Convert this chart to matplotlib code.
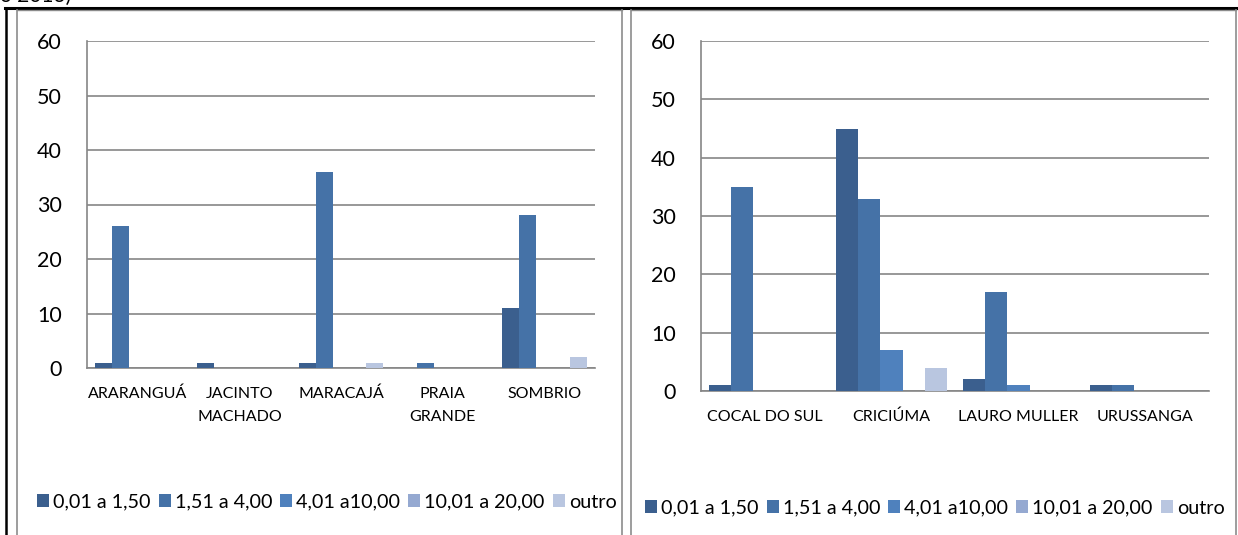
import numpy as np
import matplotlib
matplotlib.use("Agg")
import matplotlib.pyplot as plt
from matplotlib.lines import Line2D
from matplotlib.patches import Patch

plt.rcParams['font.family'] = ['Lato', 'DejaVu Sans']

# Area classes (ha) used as series
series_labels = ["0,01 a 1,50", "1,51 a 4,00", "4,01 a10,00", "10,01 a 20,00", "outro"]
series_colors = ["#3B5F8E", "#4572A7", "#4F81BD", "#95A9D1", "#B9C6E0"]

# Left chart: municipalities and counts per class
left_cats = ["ARARANGUÁ", "JACINTO\nMACHADO", "MARACAJÁ", "PRAIA\nGRANDE", "SOMBRIO"]
left_s1 = [1, 1, 1, 0, 11]
left_s2 = [26, 0, 36, 1, 28]
left_s3 = [0, 0, 0, 0, 0]
left_s4 = [0, 0, 0, 0, 0]
left_s5 = [0, 0, 1, 0, 2]

# Right chart
right_cats = ["COCAL DO SUL", "CRICIÚMA", "LAURO MULLER", "URUSSANGA"]
right_s1 = [1, 45, 2, 1]
right_s2 = [35, 33, 17, 1]
right_s3 = [0, 7, 1, 0]
right_s4 = [0, 0, 0, 0]
right_s5 = [0, 4, 0, 0]

yticks = [0, 10, 20, 30, 40, 50, 60]

W, H = 1238, 535
fig = plt.figure(figsize=(W / 100, H / 100), dpi=100)


def fx(px):
    return px / W


def fy(py):
    return 1 - py / H


grid_color = "#868686"
label_pad_pt = 21.6     # axis line to first baseline
label_step_pt = 16.6    # baseline-to-baseline for wrapped names


def draw_chart(rect, cats, values, bar_w, legend_y, legend_x0):
    ax = fig.add_axes(rect)
    n = len(cats)
    x = np.arange(n)
    for i, vals in enumerate(values):
        ax.bar(x + (i - 2) * bar_w, vals, width=bar_w, color=series_colors[i],
               linewidth=0, zorder=3)
    ax.set_xlim(-0.5, n - 0.5)
    ax.set_ylim(0, 60)
    ax.set_yticks(yticks)
    ax.set_yticklabels([str(t) for t in yticks], fontsize=15.5)
    ax.set_xticks(x)
    ax.set_xticklabels([])
    ax.tick_params(axis='both', length=0)
    ax.tick_params(axis='y', pad=18)
    # category names, each line on its own baseline
    for xi, cat in zip(x, cats):
        for j, line in enumerate(cat.split("\n")):
            ax.annotate(line, xy=(xi, 0), xycoords=('data', 'axes fraction'),
                        xytext=(0, -label_pad_pt - j * label_step_pt),
                        textcoords='offset points', ha='center', va='baseline',
                        fontsize=11.5, annotation_clip=False)
    ax.grid(axis='y', color=grid_color, linewidth=1.2, zorder=0)
    for s in ['top', 'right']:
        ax.spines[s].set_visible(False)
    for s in ['left', 'bottom']:
        ax.spines[s].set_color(grid_color)
        ax.spines[s].set_linewidth(1.2)
    handles = [Patch(facecolor=c, edgecolor='none') for c in series_colors]
    fig.legend(handles, series_labels, loc='center left',
               bbox_to_anchor=(fx(legend_x0), fy(legend_y)), ncol=5,
               frameon=False, fontsize=14.2, handlelength=0.62, handleheight=0.62,
               handletextpad=0.2, columnspacing=0.4, borderaxespad=0, borderpad=0)
    return ax


draw_chart([fx(87), fy(368), fx(508), (368 - 41) / H], left_cats,
           [left_s1, left_s2, left_s3, left_s4, left_s5], 0.167, 502, 37)
draw_chart([fx(701), fy(391), fx(508), (391 - 41) / H], right_cats,
           [right_s1, right_s2, right_s3, right_s4, right_s5], 0.175, 508, 645)

# Caption fragment above the table
fig.text(fx(0), fy(-4), "o 2013)", fontsize=15, ha='left', va='center')

# Table borders and chart frames
def fline(xs, ys, color, lw):
    fig.add_artist(Line2D([fx(v) for v in xs], [fy(v) for v in ys],
                          color=color, linewidth=lw, transform=fig.transFigure))

fline([5, 1238], [8, 8], "black", 2.2)
fline([6, 6], [8, 535], "black", 1.8)
for xv in (17, 622, 631, 1236):
    fline([xv, xv], [10, 535], "#8C8C8C", 1.2)
fline([17, 622], [10, 10], "#8C8C8C", 1.0)
fline([631, 1236], [10, 10], "#8C8C8C", 1.0)

fig.savefig("out.png", dpi=100, facecolor="white")
